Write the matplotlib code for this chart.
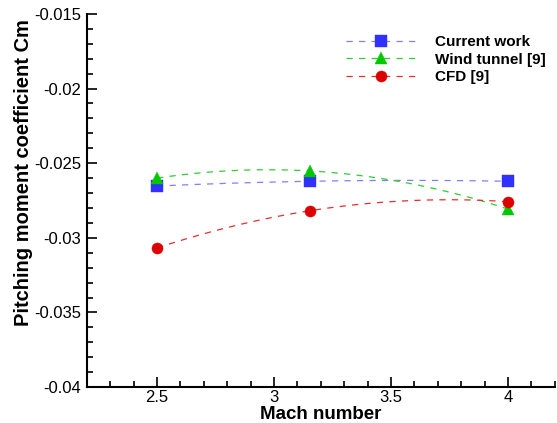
import matplotlib.pyplot as plt
import numpy as np
from matplotlib.ticker import MultipleLocator

plt.rcParams['font.family'] = ['Liberation Sans', 'DejaVu Sans']

# data
mach = [2.5, 3.155, 4.0]
current_work = [-0.02653, -0.02621, -0.02621]
wind_tunnel = [-0.02600, -0.02552, -0.02807]
cfd = [-0.03068, -0.02818, -0.02758]

series = [
    ('Current work', current_work, 's', '#3030ff', '#7f7fff'),
    ('Wind tunnel [9]', wind_tunnel, '^', '#00c800', '#33cc33'),
    ('CFD [9]', cfd, 'o', '#dd0000', '#e03030'),
]

fig = plt.figure(figsize=(5.57, 4.23), dpi=100)
ax = fig.add_axes([0.156, 0.085, 0.84, 0.882])

xs = np.linspace(mach[0], mach[-1], 200)
for label, vals, mk, mc, lc in series:
    # smooth curve through the three points
    coef = np.polyfit(mach, vals, 2)
    ax.plot(xs, np.polyval(coef, xs), '--', color=lc, lw=0.9, dashes=(5, 5))
    ax.plot(mach, vals, mk, color=mc, ms=8, mew=0.3, mec=mc, ls='none')
    # legend proxy
    ax.plot([], [], '--', color=lc, lw=0.9, dashes=(5, 5), marker=mk,
            ms=8, mew=0.3, mfc=mc, mec=mc, label=label)

ax.set_xlim(2.2, 4.2)
ax.set_ylim(-0.04, -0.015)
ax.xaxis.set_minor_locator(MultipleLocator(0.1))
ax.yaxis.set_minor_locator(MultipleLocator(0.001))
ax.set_xticks([2.5, 3, 3.5, 4])
ax.set_xticklabels(['2.5', '3', '3.5', '4'])
ax.set_yticks([-0.04, -0.035, -0.03, -0.025, -0.02, -0.015])
ax.set_yticklabels(['-0.04', '-0.035', '-0.03', '-0.025', '-0.02', '-0.015'])
ax.tick_params(which='both', direction='in', labelsize=12, width=1.2)
ax.tick_params(which='major', length=7, pad=4)
ax.tick_params(axis='x', which='major', pad=2)
ax.tick_params(which='minor', length=4)
for s in ['top', 'right']:
    ax.spines[s].set_visible(False)
for s in ['left', 'bottom']:
    ax.spines[s].set_linewidth(1.5)

ax.set_xlabel('Mach number', fontsize=13.5, fontweight='bold')
ax.xaxis.set_label_coords(0.5, -0.052)
ax.set_ylabel('Pitching moment coefficient Cm', fontsize=14.5,
              fontweight='bold')
ax.yaxis.set_label_coords(-0.115, 0.575)

ax.legend(loc='upper right', bbox_to_anchor=(1.01, 0.98), frameon=False,
          prop={'weight': 'bold', 'size': 11}, handlelength=4.5,
          handletextpad=1.3, labelspacing=0.22)

fig.savefig('out.png', dpi=100)
